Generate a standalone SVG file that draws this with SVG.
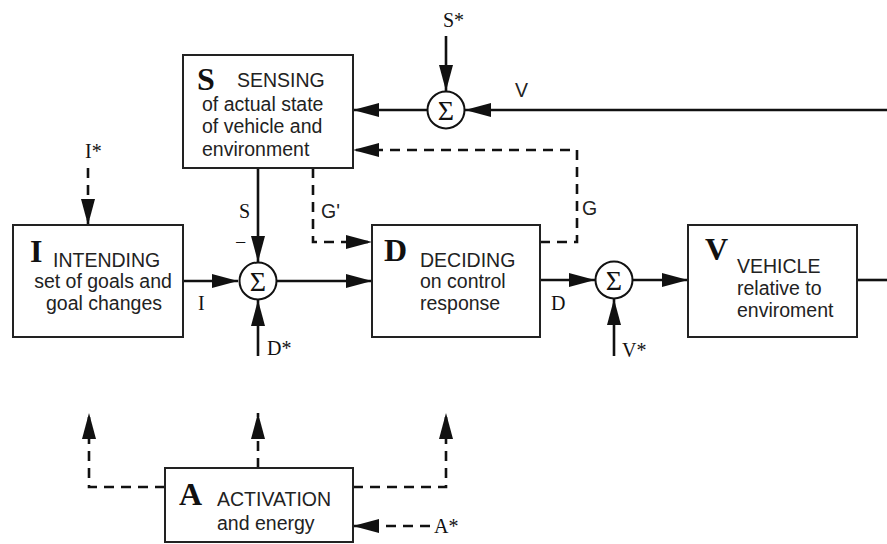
<svg xmlns="http://www.w3.org/2000/svg" width="887" height="544" viewBox="0 0 887 544">
<defs>
<marker id="ah" markerUnits="userSpaceOnUse" markerWidth="28" markerHeight="16" refX="26" refY="7" orient="auto">
<path d="M0,0 L26,7 L0,14 z" fill="#111"/>
</marker>
<style>
.box{fill:#fff;stroke:#222;stroke-width:2}
.ln{fill:none;stroke:#111;stroke-width:2.6}
.da{fill:none;stroke:#111;stroke-width:2.6;stroke-dasharray:10 7}
.sum{fill:#fff;stroke:#111;stroke-width:2}
.big{font-family:"Liberation Serif",serif;font-weight:bold;font-size:32px;fill:#111}
.t{font-family:"Liberation Sans",Arial,sans-serif;font-size:19.5px;fill:#222}
.sr{font-family:"Liberation Serif",serif;font-size:20px;fill:#111}
.sg{font-family:"Liberation Serif",serif;font-size:28px;fill:#111;text-anchor:middle}
</style>
</defs>
<rect width="887" height="544" fill="#fff"/>

<g id="connectors">
<line class="ln" x1="446" y1="36" x2="446" y2="91" marker-end="url(#ah)"/>
<line class="ln" x1="427" y1="110" x2="353" y2="110" marker-end="url(#ah)"/>
<line class="ln" x1="887" y1="110" x2="465" y2="110" marker-end="url(#ah)"/>
<polyline class="da" points="540,242 577,242 577,150 353,150" marker-end="url(#ah)"/>
<line class="ln" x1="258" y1="168" x2="258" y2="262" marker-end="url(#ah)"/>
<polyline class="da" points="313,168 313,242 372,242" marker-end="url(#ah)"/>
<line class="da" x1="88" y1="168" x2="88" y2="225" marker-end="url(#ah)"/>
<line class="ln" x1="183" y1="281" x2="238" y2="281" marker-end="url(#ah)"/>
<line class="ln" x1="277" y1="281" x2="372" y2="281" marker-end="url(#ah)"/>
<line class="ln" x1="258" y1="356" x2="258" y2="300" marker-end="url(#ah)"/>
<line class="ln" x1="540" y1="280" x2="595" y2="280" marker-end="url(#ah)"/>
<line class="ln" x1="614" y1="356" x2="614" y2="299" marker-end="url(#ah)"/>
<line class="ln" x1="633" y1="280" x2="688" y2="280" marker-end="url(#ah)"/>
<line class="ln" x1="857" y1="280" x2="887" y2="280"/>
<polyline class="da" points="165,487 89,487 89,413" marker-end="url(#ah)"/>
<line class="da" x1="258" y1="468" x2="258" y2="413" marker-end="url(#ah)"/>
<polyline class="da" points="353,487 446,487 446,413" marker-end="url(#ah)"/>
<line class="da" x1="430" y1="526" x2="353" y2="526" marker-end="url(#ah)"/>
</g>

<g id="sum-sensing">
<circle class="sum" cx="446" cy="110" r="18.5"/>
<text class="sg" x="446" y="120">Σ</text>
</g>
<g id="sum-intending">
<circle class="sum" cx="258" cy="281" r="18.5"/>
<text class="sg" x="258" y="291">Σ</text>
</g>
<g id="sum-deciding">
<circle class="sum" cx="614" cy="280" r="18.5"/>
<text class="sg" x="614" y="290">Σ</text>
</g>

<g id="node-S">
<rect class="box" x="183" y="55" width="170" height="113"/>
<text class="big" x="197" y="90">S</text>
<text class="t" x="237" y="87">SENSING</text>
<text class="t" x="202" y="111">of actual state</text>
<text class="t" x="202" y="133">of vehicle and</text>
<text class="t" x="202" y="156">environment</text>
</g>

<g id="node-I">
<rect class="box" x="13" y="225" width="170" height="112"/>
<text class="big" x="30" y="262">I</text>
<text class="t" x="53" y="267">INTENDING</text>
<text class="t" x="103" y="288" text-anchor="middle">set of goals and</text>
<text class="t" x="104" y="310" text-anchor="middle">goal changes</text>
</g>

<g id="node-D">
<rect class="box" x="372" y="225" width="168" height="112"/>
<text class="big" x="384" y="261">D</text>
<text class="t" x="420" y="267">DECIDING</text>
<text class="t" x="420" y="288">on control</text>
<text class="t" x="420" y="310">response</text>
</g>

<g id="node-V">
<rect class="box" x="688" y="225" width="169" height="112"/>
<text class="big" x="705" y="260">V</text>
<text class="t" x="737" y="273">VEHICLE</text>
<text class="t" x="737" y="295">relative to</text>
<text class="t" x="737" y="317">enviroment</text>
</g>

<g id="node-A">
<rect class="box" x="165" y="468" width="188" height="74"/>
<text class="big" x="179" y="505">A</text>
<text class="t" x="217" y="506">ACTIVATION</text>
<text class="t" x="217" y="530">and energy</text>
</g>

<g id="labels">
<text class="sr" x="443" y="27">S*</text>
<text class="t" x="515" y="97">V</text>
<text class="t" x="582" y="215">G</text>
<text class="sr" x="85" y="158">I*</text>
<text class="sr" x="239" y="218">S</text>
<text class="sr" x="235" y="249">−</text>
<text class="t" x="321" y="218">G'</text>
<text class="sr" x="198" y="310">I</text>
<text class="sr" x="267" y="355">D*</text>
<text class="sr" x="551" y="310">D</text>
<text class="sr" x="622" y="357">V*</text>
<text class="sr" x="434" y="533">A*</text>
</g>
</svg>
